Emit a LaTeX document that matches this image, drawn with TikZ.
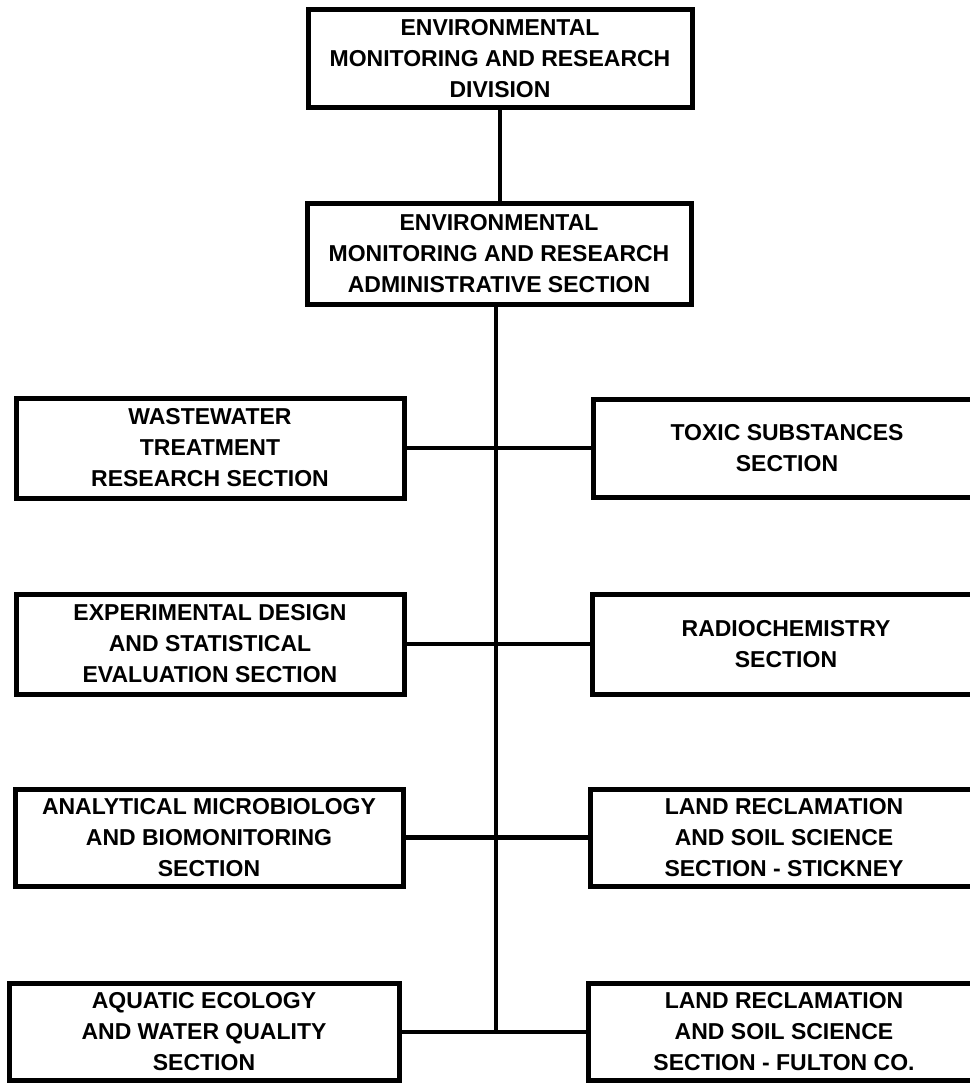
\documentclass[tikz,border=0pt]{standalone}
\usepackage{fontspec}
\setmainfont{Liberation Sans}
\begin{document}
\begin{tikzpicture}[x=1pt,y=-1pt,
  orgbox/.style={draw=black, line width=5pt, fill=white, align=center,
    font=\bfseries\fontsize{23}{31}\selectfont, inner sep=0pt,
    minimum width=384pt, minimum height=98pt},
  link/.style={line width=4.2pt, draw=black}]
\useasboundingbox (0,0) rectangle (969,1083);
\fill[white] (0,0) rectangle (969,1083);

% division head and its administrative section
\node[orgbox] (div) at (500,58.5) {ENVIRONMENTAL\\MONITORING AND RESEARCH\\DIVISION};
\node[orgbox, minimum height=100pt] (adm) at (499,254) {ENVIRONMENTAL\\MONITORING AND RESEARCH\\ADMINISTRATIVE SECTION};

% left column of sections
\node[orgbox, minimum width=388pt, minimum height=100pt] (l1) at (210,448) {WASTEWATER\\TREATMENT\\RESEARCH SECTION};
\node[orgbox, minimum width=388pt, minimum height=100pt] (l2) at (210,644) {EXPERIMENTAL DESIGN\\AND STATISTICAL\\EVALUATION SECTION};
\node[orgbox, minimum width=388pt, minimum height=97pt] (l3) at (209,837.5) {ANALYTICAL MICROBIOLOGY\\AND BIOMONITORING\\SECTION};
\node[orgbox, minimum width=390pt, minimum height=97pt] (l4) at (204,1032) {AQUATIC ECOLOGY\\AND WATER QUALITY\\SECTION};

% right column of sections (running off the right edge)
\node[orgbox, minimum width=388pt, minimum height=98pt] (r1) at (787,448) {TOXIC SUBSTANCES\\SECTION};
\node[orgbox, minimum width=388pt, minimum height=100pt] (r2) at (786,644) {RADIOCHEMISTRY\\SECTION};
\node[orgbox, minimum width=388pt, minimum height=97pt] (r3) at (784,837.5) {LAND RECLAMATION\\AND SOIL SCIENCE\\SECTION - STICKNEY};
\node[orgbox, minimum width=392pt, minimum height=97pt] (r4) at (784,1032) {LAND RECLAMATION\\AND SOIL SCIENCE\\SECTION - FULTON CO.};

% connectors
\coordinate (spine) at (496,1032);
\draw[link] (div.south) -- (div.south |- adm.north);
\draw[link] (adm.south -| spine) -- (spine);
\draw[link] (l1.east) -- (r1.west);
\draw[link] (l2.east) -- (r2.west);
\draw[link] (l3.east) -- (r3.west);
\draw[link] (l4.east) -- (r4.west);
\end{tikzpicture}
\end{document}
